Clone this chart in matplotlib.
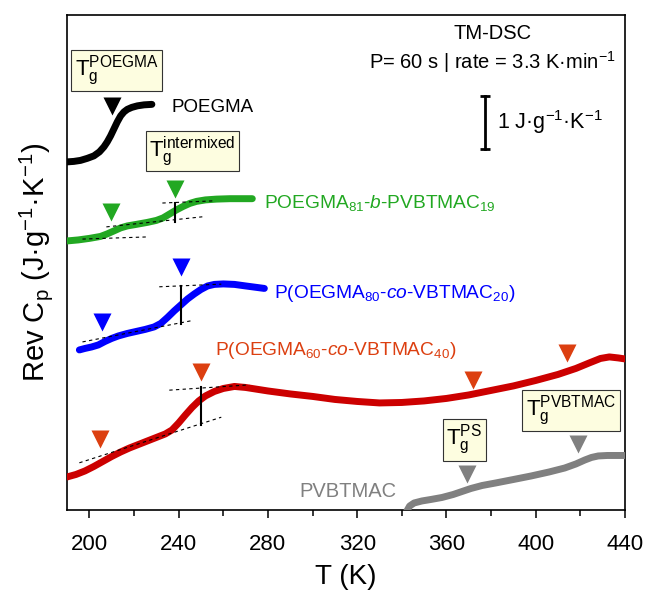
import matplotlib
matplotlib.use('Agg')
import matplotlib.pyplot as plt

plt.rcParams['font.family'] = ['Liberation Sans', 'DejaVu Sans']
plt.rcParams['mathtext.fontset'] = 'custom'
plt.rcParams['mathtext.rm'] = 'Liberation Sans'
plt.rcParams['mathtext.it'] = 'Liberation Sans:italic'
plt.rcParams['mathtext.bf'] = 'Liberation Sans:bold'

# ---------------- data (T in K, Rev Cp in J/g/K, vertically offset) ----------------
T_poegma = [190, 193, 196, 199, 202, 204.5, 206.5, 208, 209.5, 211, 212.5, 214, 215.5,
            217, 219, 221.5, 224.5, 228]
cp_poegma = [6.566, 6.575, 6.594, 6.632, 6.679, 6.755, 6.849, 6.943, 7.057, 7.189, 7.321,
             7.434, 7.509, 7.557, 7.594, 7.623, 7.642, 7.651]

T_block = [190, 195, 200, 205, 208, 211, 214, 217, 221, 226, 230, 233, 236, 239, 242, 245,
           248, 252, 257, 263, 273]
cp_block = [5.075, 5.094, 5.123, 5.160, 5.208, 5.264, 5.321, 5.358, 5.387, 5.425, 5.462,
            5.509, 5.585, 5.660, 5.726, 5.783, 5.821, 5.849, 5.864, 5.872, 5.872]

T_co20 = [195.5, 198, 201, 204, 207, 210, 213, 217, 221, 225, 229, 232, 235, 238, 241, 244,
          247, 250, 253, 256, 260, 265, 270, 278.4]
cp_co20 = [3.019, 3.047, 3.075, 3.113, 3.179, 3.236, 3.283, 3.330, 3.368, 3.406, 3.453,
           3.519, 3.632, 3.755, 3.868, 3.981, 4.075, 4.160, 4.226, 4.255, 4.264, 4.255,
           4.226, 4.179]

T_co40 = [190, 194, 198, 202, 206, 210, 214, 218, 222, 226, 230, 234, 237, 240, 243, 246,
          249, 252, 256, 260, 265, 270, 280, 290, 300, 310, 320, 330, 340, 350, 360, 370,
          380, 390, 400, 410, 418, 424, 429, 433, 437, 440]
cp_co40 = [0.623, 0.670, 0.736, 0.821, 0.915, 1.009, 1.094, 1.170, 1.236, 1.302, 1.368,
           1.434, 1.509, 1.642, 1.792, 1.934, 2.057, 2.151, 2.236, 2.292, 2.330, 2.311,
           2.245, 2.189, 2.142, 2.085, 2.047, 2.019, 2.028, 2.057, 2.104, 2.170, 2.255,
           2.340, 2.443, 2.557, 2.670, 2.774, 2.858, 2.887, 2.868, 2.849]

T_pvbtmac = [342, 343.5, 345.5, 349, 353, 358, 363, 367, 371, 376, 382, 390, 398, 406, 413,
             418, 422, 425, 428, 432, 440]
cp_pvbtmac = [-0.038, 0.075, 0.132, 0.170, 0.198, 0.236, 0.292, 0.349, 0.406, 0.462, 0.509,
              0.575, 0.642, 0.717, 0.792, 0.868, 0.943, 0.991, 1.019, 1.028, 1.028]

# Tg markers (triangles)
tg_poegma_T, tg_poegma_y = [210], [7.62]
tg_block_T, tg_block_y = [209.8, 238.5], [5.62, 6.06]
tg_co20_T, tg_co20_y = [205.8, 241.2], [3.55, 4.58]
tg_co40_T, tg_co40_y = [204.9, 250.1, 372, 414], [1.34, 2.60, 2.45, 2.96]
tg_pvb_T, tg_pvb_y = [369.3, 419], [0.68, 1.25]

# tangent constructions: (T1, y1, T2, y2)
dash_block = [(196.9, 5.11, 225.5, 5.15), (207.6, 5.34, 250.6, 5.53), (232.7, 5.79, 255.1, 5.83)]
step_block = (238.5, 5.43, 5.79)
dash_co20 = [(196.9, 3.17, 245.7, 3.57), (231.3, 4.21, 259.1, 4.26)]
step_co20 = (241.2, 3.51, 4.23)
dash_co40 = [(195.5, 0.89, 259.1, 1.75), (235.8, 2.26, 271.6, 2.36)]
step_co40 = (250.2, 1.60, 2.32)

xticks = [200, 240, 280, 320, 360, 400, 440]
xminor = [220, 260, 300, 340, 380, 420]

c_black = 'black'
c_green = '#22A822'
c_blue = '#0000FF'
c_red = '#CC0000'
c_orange = '#DC3F10'
c_grey = '#808080'

fig = plt.figure(figsize=(6.45, 5.93), dpi=100)
ax = fig.add_axes([0.104, 0.140, 0.865, 0.835])

lw = 5
for T, cp, c in [(T_poegma, cp_poegma, c_black), (T_block, cp_block, c_green),
                 (T_co20, cp_co20, c_blue), (T_co40, cp_co40, c_red),
                 (T_pvbtmac, cp_pvbtmac, c_grey)]:
    ax.plot(T, cp, color=c, lw=lw, solid_capstyle='round', solid_joinstyle='round', zorder=3)

for dl in (dash_block, dash_co20, dash_co40):
    for (t1, y1, t2, y2) in dl:
        ax.plot([t1, t2], [y1, y2], color='black', lw=0.8, ls=(0, (3, 3)), zorder=4)
for (t, y1, y2) in (step_block, step_co20, step_co40):
    ax.plot([t, t], [y1, y2], color='black', lw=1.5, zorder=5)

ms = 13
for T, y, c in [(tg_poegma_T, tg_poegma_y, c_black), (tg_block_T, tg_block_y, c_green),
                (tg_co20_T, tg_co20_y, c_blue), (tg_co40_T, tg_co40_y, c_orange),
                (tg_pvb_T, tg_pvb_y, c_grey)]:
    ax.plot(T, y, 'v', ms=ms, color=c, mec='none', zorder=6)

# labels
fs_lab = 13.8
ax.text(236.7, 7.60, 'POEGMA', color=c_black, fontsize=13.5, va='center', ha='left')
ax.text(278.4, 5.79, r'POEGMA$_{81}$-$\it{b}$-PVBTMAC$_{19}$', color=c_green, fontsize=fs_lab, va='center', ha='left')
ax.text(282.8, 4.08, r'P(OEGMA$_{80}$-$\it{co}$-VBTMAC$_{20}$)', color=c_blue, fontsize=fs_lab, va='center', ha='left')
ax.text(256.4, 3.00, r'P(OEGMA$_{60}$-$\it{co}$-VBTMAC$_{40}$)', color=c_orange, fontsize=fs_lab, va='center', ha='left')
ax.text(294, 0.34, 'PVBTMAC', color=c_grey, fontsize=14.5, va='center', ha='left')

# Tg boxes
bbox = dict(boxstyle='square,pad=0.15', fc='#FDFDE0', ec='#333333', lw=0.8)
fs_box = 16
ax.text(212.2, 8.29, r'$\mathregular{T_g^{POEGMA}}$', fontsize=fs_box, ha='center', va='center', bbox=bbox, zorder=7)
ax.text(246.1, 6.77, r'$\mathregular{T_g^{intermixed}}$', fontsize=fs_box, ha='center', va='center', bbox=bbox, zorder=7)
ax.text(368.0, 1.32, r'$\mathregular{T_g^{PS}}$', fontsize=fs_box, ha='center', va='center', bbox=bbox, zorder=7)
ax.text(415.8, 1.87, r'$\mathregular{T_g^{PVBTMAC}}$', fontsize=fs_box, ha='center', va='center', bbox=bbox, zorder=7)

# header text
ax.text(380.5, 8.89, 'TM-DSC', fontsize=14.5, ha='center', va='baseline')
ax.text(380.5, 8.32, r'P= 60 s | rate = 3.3 K·min$^{-1}$', fontsize=14.5, ha='center', va='baseline')

# scale bar 1 J/g/K
ax.plot([377.3, 377.3], [6.81, 7.81], color='black', lw=2)
ax.plot([377.3, 377.3], [6.81, 7.81], ls='none', marker='_', ms=7, mew=2, color='black')
ax.text(382.7, 7.32, r'1 J·g$^{-1}$·K$^{-1}$', fontsize=15.5, ha='left', va='center')

ax.set_xlim(190, 440)
ax.set_ylim(0, 9.34)
ax.set_xticks(xticks)
ax.set_xticks(xminor, minor=True)
ax.set_yticks([])
ax.tick_params(axis='x', which='major', direction='out', length=6, width=1.1, labelsize=16, pad=11)
ax.tick_params(axis='x', which='minor', direction='out', length=4, width=1.1)
for s in ax.spines.values():
    s.set_linewidth(1.2)

ax.set_xlabel('T (K)', fontsize=20, labelpad=7)
ax.set_ylabel(r'Rev C$_\mathregular{p}$ (J·g$^{-1}$·K$^{-1}$)', fontsize=21, labelpad=9)

fig.savefig('out.png', dpi=100)
